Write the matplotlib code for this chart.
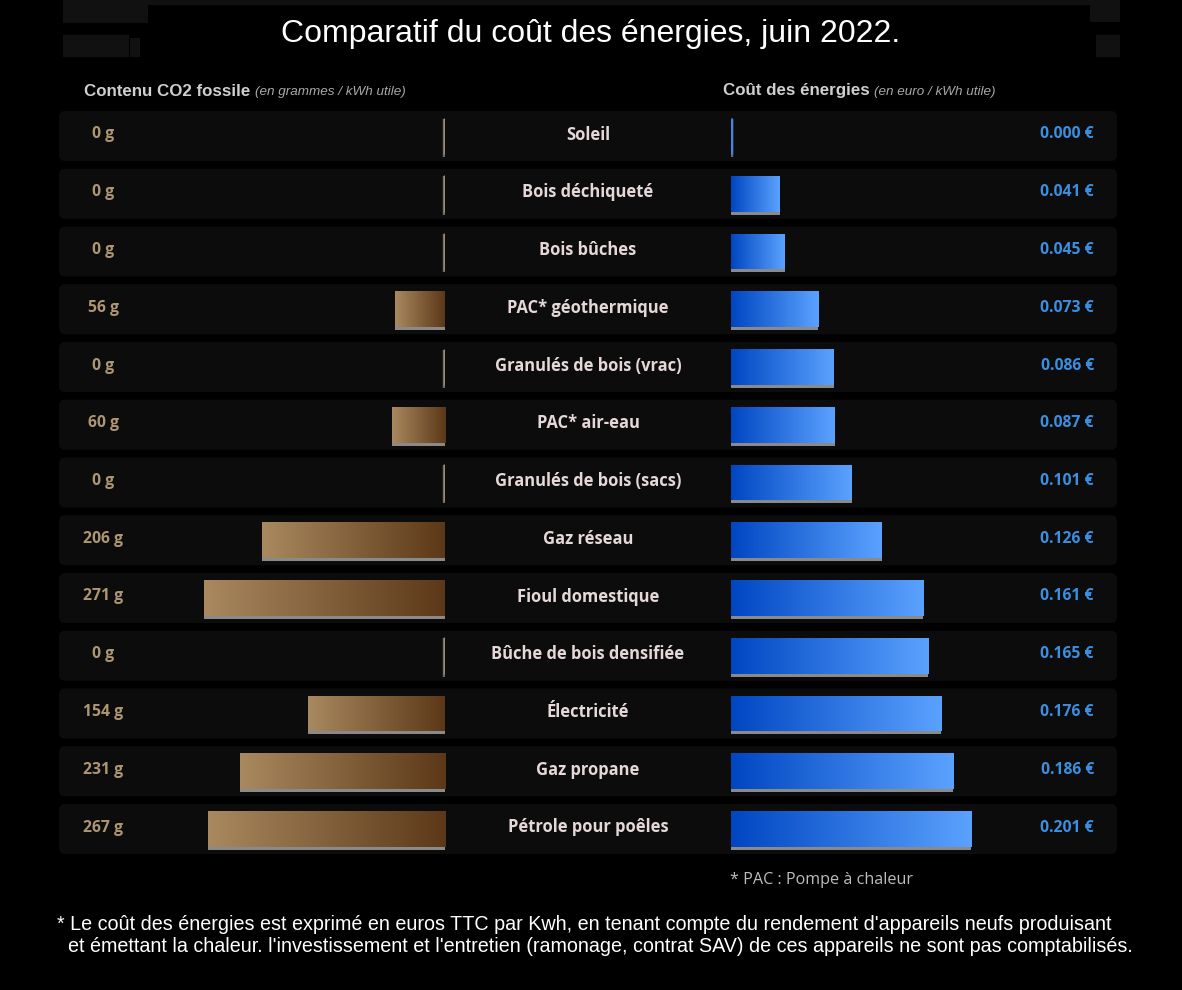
import matplotlib.pyplot as plt
import matplotlib.transforms as mtransforms
from matplotlib.colors import LinearSegmentedColormap
from matplotlib.patches import FancyBboxPatch, Rectangle
import numpy as np

ENERGIES = [
    "Soleil",
    "Bois déchiqueté",
    "Bois bûches",
    "PAC* géothermique",
    "Granulés de bois (vrac)",
    "PAC* air-eau",
    "Granulés de bois (sacs)",
    "Gaz réseau",
    "Fioul domestique",
    "Bûche de bois densifiée",
    "Électricité",
    "Gaz propane",
    "Pétrole pour poêles",
]
CO2_G = [0, 0, 0, 56, 0, 60, 0, 206, 271, 0, 154, 231, 267]
COUT_EUR = [0.000, 0.041, 0.045, 0.073, 0.086, 0.087, 0.101,
            0.126, 0.161, 0.165, 0.176, 0.186, 0.201]

W, H = 1182, 990
ROW_PX = 57.75          # pixel pitch between rows
TOP_PX = 136 - ROW_PX / 2

BG = "#000000"
PANEL = "#0c0c0c"
TAN_TXT = "#ad9672"
BLUE_TXT = "#3b8ee0"
LABEL_TXT = "#e6d8d8"
BROWN = ("#5c3818", "#a9895f")   # at zero -> at end
BLUE = ("#0046c2", "#5ba2ff")

LABEL_FONT = ["Open Sans", "DejaVu Sans"]
ARIAL = ["Liberation Sans", "DejaVu Sans"]


def fx(px):
    return px / W


def fy(py):
    return 1 - py / H


def gradient_fill(ax, bars, c_start, c_end):
    cmap = LinearSegmentedColormap.from_list("grad", [c_start, c_end])
    grad = np.linspace(0, 1, 256).reshape(1, -1)
    for bar in bars:
        w = bar.get_width()
        if w == 0:
            continue
        x0, y0 = bar.get_x(), bar.get_y()
        h = bar.get_height()
        im = ax.imshow(grad, cmap=cmap, aspect="auto", interpolation="bicubic",
                       extent=[x0, x0 + w, y0 + h, y0], zorder=3)
        im.set_clip_path(bar)


def draw_side(ax, values, colors, zero_color):
    y = np.arange(len(values))
    shadow_dy = 3 / ROW_PX
    ax.barh(y + shadow_dy, values, height=0.62, color="#8a8a8a",
            linewidth=0, zorder=1)
    bars = ax.barh(y, values, height=0.62, color=colors[1], linewidth=0, zorder=2)
    gradient_fill(ax, bars, colors[0], colors[1])
    zeros = [i for i, v in enumerate(values) if v == 0]
    ax.vlines([0] * len(zeros), [i - 0.30 for i in zeros], [i + 0.36 for i in zeros],
              color="#6a6a6a", linewidth=3.2, zorder=2)
    ax.vlines([0] * len(zeros), [i - 0.32 for i in zeros], [i + 0.32 for i in zeros],
              color=zero_color, linewidth=2.4, zorder=3)


fig = plt.figure(figsize=(W / 100, H / 100), dpi=100, facecolor=BG)

# decorative blurred blocks at the top of the original picture
deco = fig.add_axes([0, 0, 1, 1], facecolor="none")
deco.set_xlim(0, W)
deco.set_ylim(H, 0)
deco.axis("off")
for x0, y0, w, h in [(63, 0, 1057, 5), (63, 0, 85, 23), (63, 35, 66, 22),
                     (130, 38, 10, 19), (1090, 0, 30, 22), (1096, 35, 24, 22)]:
    deco.add_patch(Rectangle((x0, y0), w, h, color="#111111", linewidth=0))

rows_bottom = fy(TOP_PX + ROW_PX * len(ENERGIES))
rows_height = ROW_PX * len(ENERGIES) / H

# row panels
rows_ax = fig.add_axes([fx(59), rows_bottom, fx(1117 - 59), rows_height], facecolor="none")
rows_ax.set_xlim(0, 1117 - 59)
rows_ax.set_ylim(len(ENERGIES) - 0.5, -0.5)
rows_ax.axis("off")
for i in range(len(ENERGIES)):
    rows_ax.add_patch(FancyBboxPatch(
        (0, i - 25 / ROW_PX), 1117 - 59, 50 / ROW_PX,
        boxstyle="round,pad=0,rounding_size=6", mutation_aspect=1 / ROW_PX,
        facecolor=PANEL, edgecolor="none"))

# left: CO2 content (bars grow to the left)
left_ax = fig.add_axes([fx(59), rows_bottom, fx(445 - 59), rows_height], facecolor="none")
draw_side(left_ax, CO2_G, BROWN, "#a48a6a")
left_ax.set_xlim((445 - 59) / 0.888, 0)
left_ax.set_ylim(len(ENERGIES) - 0.5, -0.5)
left_ax.axis("off")

# right: energy cost
right_ax = fig.add_axes([fx(731), rows_bottom, fx(1117 - 731), rows_height], facecolor="none")
draw_side(right_ax, COUT_EUR, BLUE, "#4084e0")
right_ax.set_xlim(0, (1117 - 731) / 1195)
right_ax.set_ylim(len(ENERGIES) - 0.5, -0.5)
right_ax.axis("off")

row_tf = mtransforms.blended_transform_factory(fig.transFigure, rows_ax.transData)
for i, (name, co2, cost) in enumerate(zip(ENERGIES, CO2_G, COUT_EUR)):
    yy = i - 1.5 / ROW_PX
    fig.text(fx(103), yy, f"{co2} g", transform=row_tf, ha="center", va="center",
             color=TAN_TXT, fontsize=11.3, fontweight="bold", family=LABEL_FONT)
    fig.text(fx(588), yy, name, transform=row_tf, ha="center", va="center",
             color=LABEL_TXT, fontsize=11.9, fontweight="bold", family=LABEL_FONT)
    fig.text(fx(1094), yy, f"{cost:.3f} €", transform=row_tf, ha="right", va="center",
             color=BLUE_TXT, fontsize=11.3, fontweight="bold", family=LABEL_FONT)

# title and headers
fig.text(fx(591), fy(34), "Comparatif du coût des énergies, juin 2022.",
         ha="center", va="center", color="white", fontsize=23, family=ARIAL)

fig.text(fx(84), fy(91), "Contenu CO2 fossile", ha="left", va="center",
         color="#cfcfcf", fontsize=12.2, fontweight="bold", family=ARIAL)
fig.text(fx(255), fy(92), "(en grammes / kWh utile)", ha="left", va="center",
         color="#a8a8a8", fontsize=9.7, style="italic", family=ARIAL)
fig.text(fx(723), fy(91), "Coût des énergies", ha="left", va="center",
         color="#cfcfcf", fontsize=12.2, fontweight="bold", family=ARIAL)
fig.text(fx(874), fy(92), "(en euro / kWh utile)", ha="left", va="center",
         color="#a8a8a8", fontsize=9.7, style="italic", family=ARIAL)

# notes
fig.text(fx(730), fy(880), "* PAC : Pompe à chaleur", ha="left", va="center",
         color="#bdbdbd", fontsize=11.6, family=LABEL_FONT)
fig.text(fx(57), fy(925),
         "* Le coût des énergies est exprimé en euros TTC par Kwh, en tenant compte du "
         "rendement d'appareils neufs produisant",
         ha="left", va="center", color="white", fontsize=14.2, family=ARIAL)
fig.text(fx(68), fy(947),
         "et émettant la chaleur. l'investissement et l'entretien (ramonage, contrat SAV) "
         "de ces appareils ne sont pas comptabilisés.",
         ha="left", va="center", color="white", fontsize=14.2, family=ARIAL)

fig.savefig("out.png", dpi=100, facecolor=BG)
